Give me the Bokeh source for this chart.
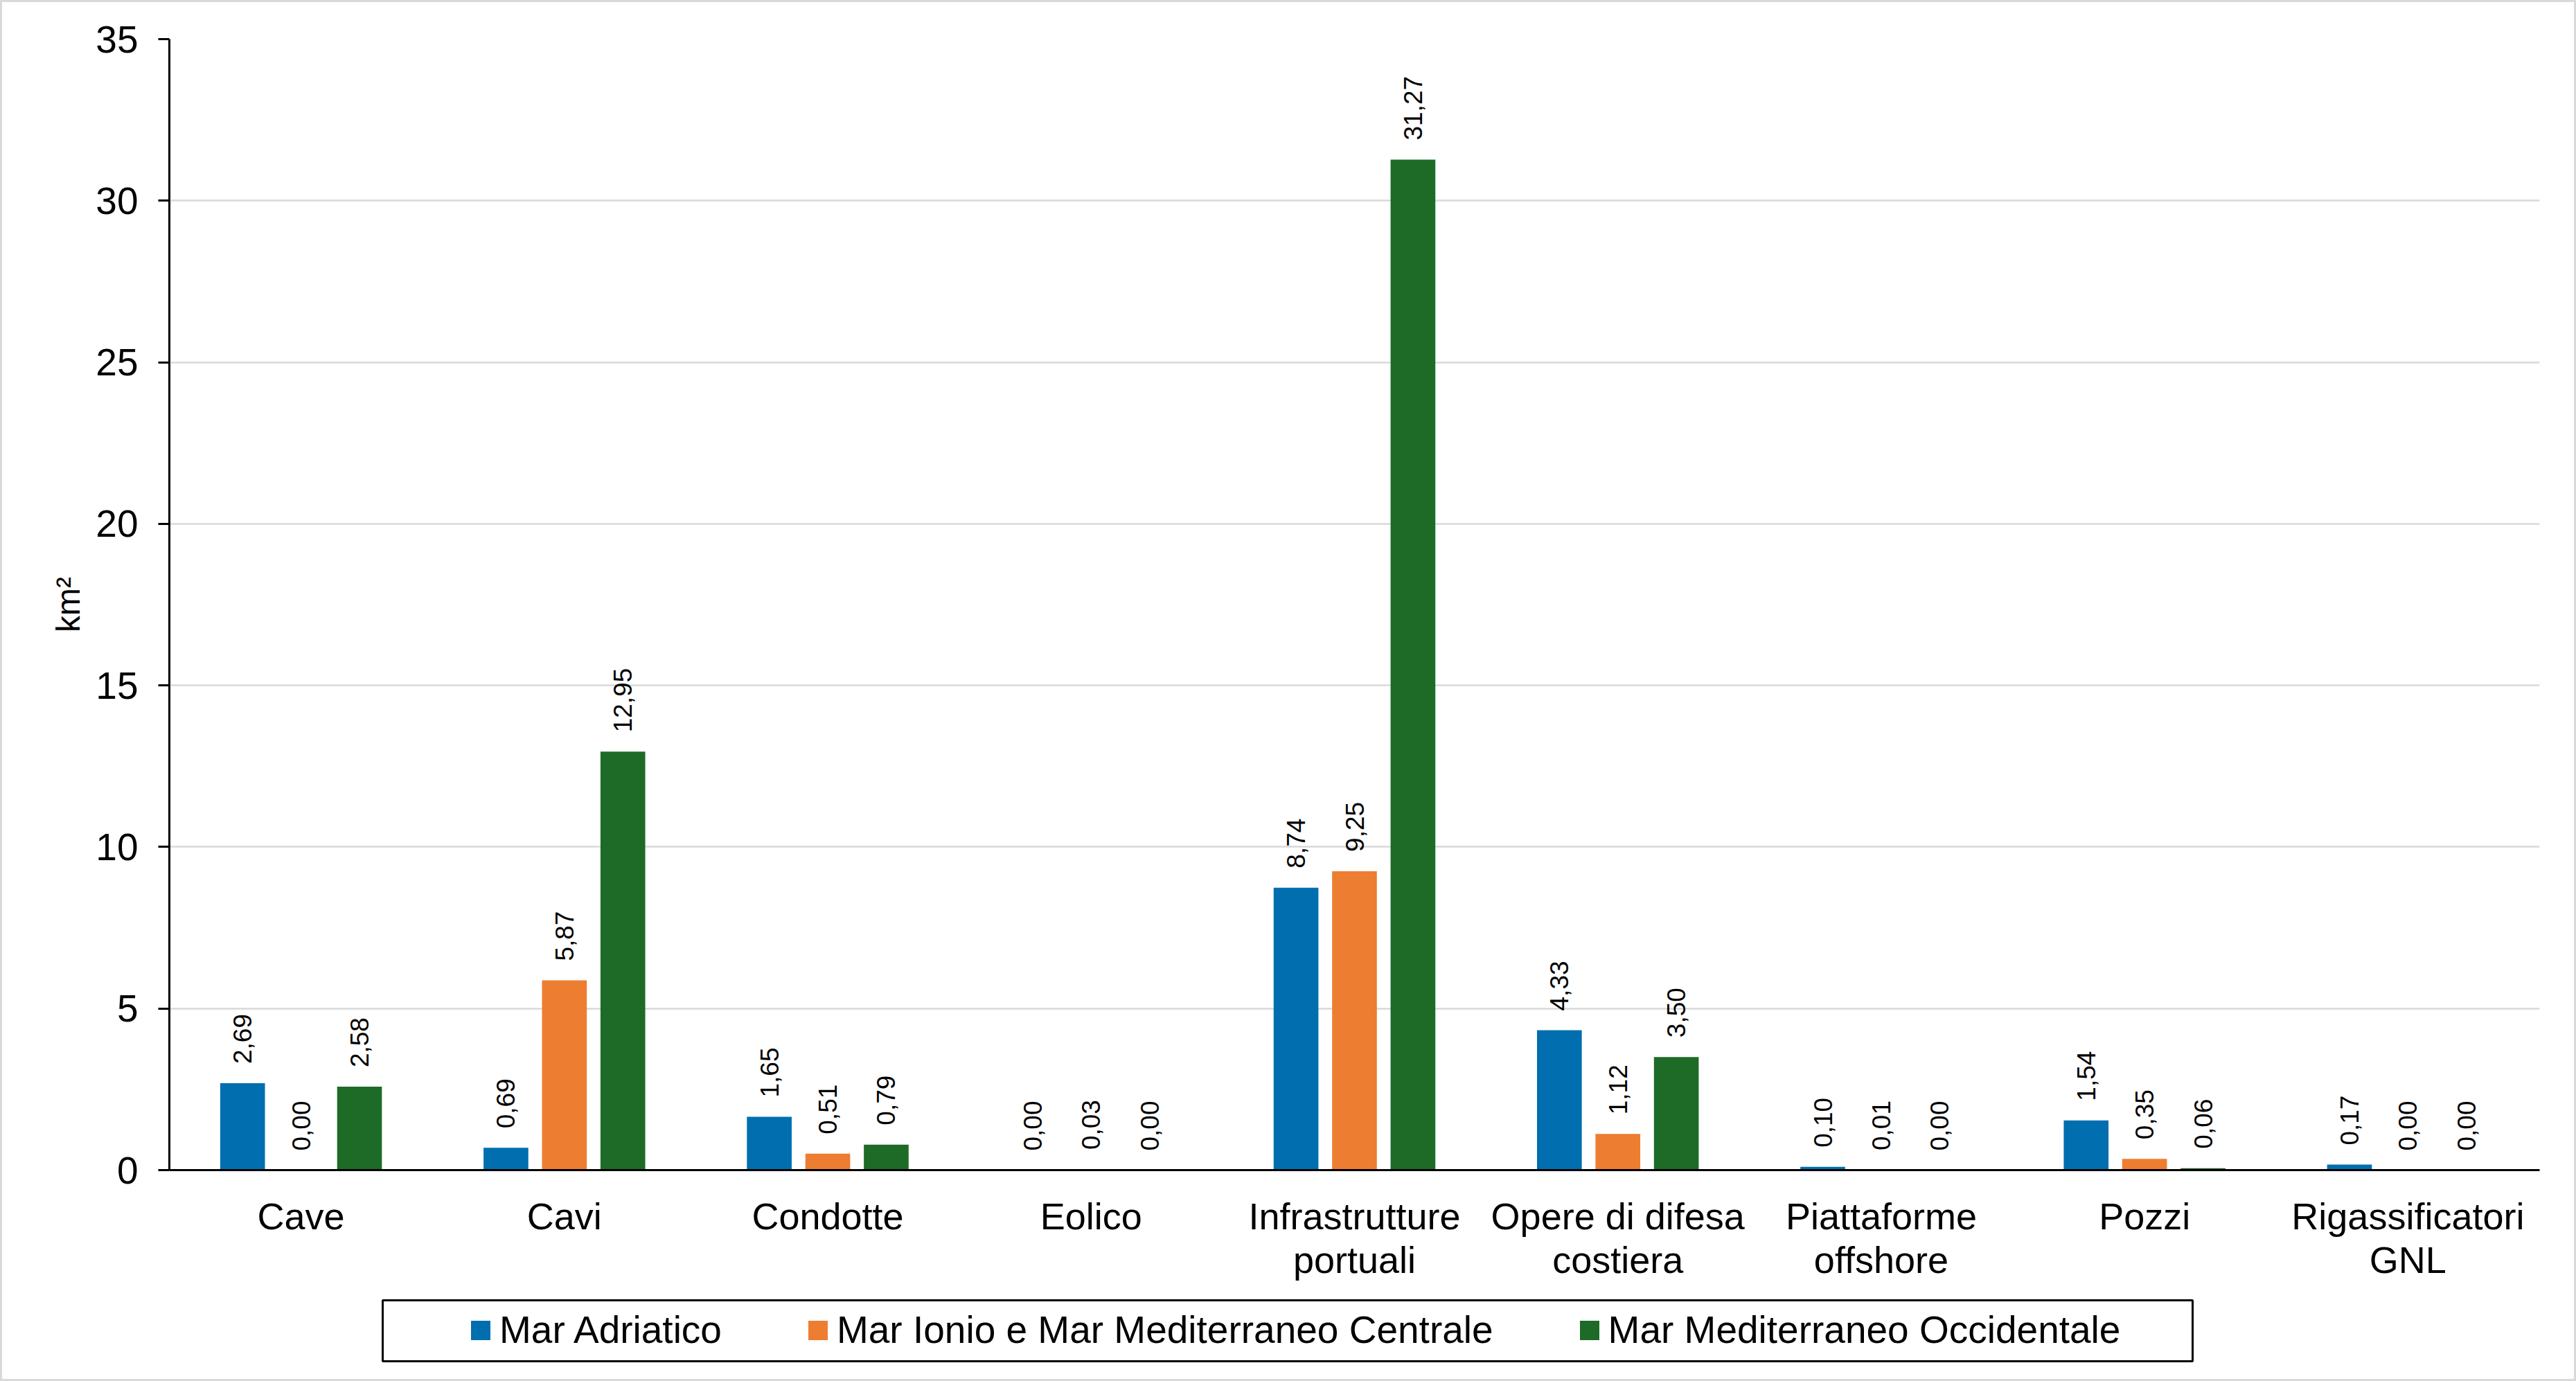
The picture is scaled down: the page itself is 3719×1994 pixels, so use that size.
from math import pi
from bokeh.plotting import figure
from bokeh.layouts import column
from bokeh.models import (ColumnDataSource, FactorRange, Range1d, FixedTicker,
                          Legend, LegendItem, BoxAnnotation)
from bokeh.transform import dodge
from bokeh.core.properties import value
from bokeh.embed import file_html
from bokeh.resources import INLINE

categories = ["Cave", "Cavi", "Condotte", "Eolico", "Infrastrutture\nportuali",
              "Opere di difesa\ncostiera", "Piattaforme\noffshore", "Pozzi",
              "Rigassificatori\nGNL"]
series_names = ["Mar Adriatico", "Mar Ionio e Mar Mediterraneo Centrale",
                "Mar Mediterraneo Occidentale"]
adriatico = [2.69, 0.69, 1.65, 0.00, 8.74, 4.33, 0.10, 1.54, 0.17]
ionio = [0.00, 5.87, 0.51, 0.03, 9.25, 1.12, 0.01, 0.35, 0.00]
occidentale = [2.58, 12.95, 0.79, 0.00, 31.27, 3.50, 0.00, 0.06, 0.00]
colors = ["#006EAF", "#ED7D31", "#1D6B27"]
y_ticks = [0, 5, 10, 15, 20, 25, 30, 35]
y_label = "km²"

FONT = "Liberation Sans"
EDGE = "3px solid #d9d9d9"


def fmt(v):
    return f"{v:.2f}".replace(".", ",")


series = [adriatico, ionio, occidentale]
data = {"cat": categories}
for i, vals in enumerate(series):
    data[f"s{i}"] = vals
    data[f"l{i}"] = [fmt(v) for v in vals]
src = ColumnDataSource(data)

W, H1, H2 = 3719, 1870, 124
MBL, MBR = 241, 56
FW = W - MBL - MBR  # frame width

p = figure(width=W, height=H1,
           x_range=FactorRange(*categories, range_padding=0),
           y_range=Range1d(0, 35),
           output_backend="svg", toolbar_location=None,
           min_border_left=MBL, min_border_right=MBR,
           min_border_top=53, min_border_bottom=184)
p.styles = {"border-top": EDGE, "border-left": EDGE, "border-right": EDGE}
p.outline_line_color = None
p.background_fill_color = "white"
p.border_fill_color = "white"

offsets = [-0.222, 0.0, 0.222]
for i, off in enumerate(offsets):
    p.vbar(x=dodge("cat", off, range=p.x_range), top=f"s{i}", bottom=0,
           width=0.17, source=src, fill_color=colors[i], line_color=None)
    p.text(x=dodge("cat", off, range=p.x_range), y=f"s{i}", text=f"l{i}",
           source=src, angle=pi / 2, text_align="left", text_baseline="middle",
           y_offset=-28, text_font=value(FONT), text_font_size="37px",
           text_color="black")

# axes
p.xaxis.major_label_text_font = FONT
p.xaxis.major_label_text_font_size = "54px"
p.xaxis.major_label_text_color = "black"
p.xaxis.major_label_text_line_height = 1.05
p.xaxis.major_tick_line_color = None
p.xaxis.minor_tick_line_color = None
p.xaxis.axis_line_width = 3
p.xaxis.axis_line_color = "black"
p.xaxis.major_label_standoff = 30

p.yaxis.ticker = FixedTicker(ticks=y_ticks)
p.yaxis.major_label_text_font = FONT
p.yaxis.major_label_text_font_size = "55px"
p.yaxis.major_label_text_color = "black"
p.yaxis.major_tick_out = 16
p.yaxis.major_tick_in = 0
p.yaxis.major_tick_line_width = 3
p.yaxis.major_tick_line_color = "black"
p.yaxis.minor_tick_line_color = None
p.yaxis.axis_line_width = 3
p.yaxis.axis_line_color = "black"
p.yaxis.major_label_standoff = 29
p.yaxis.axis_label = y_label
p.yaxis.axis_label_text_font = FONT
p.yaxis.axis_label_text_font_size = "48px"
p.yaxis.axis_label_text_font_style = "normal"
p.yaxis.axis_label_text_color = "black"
p.yaxis.axis_label_standoff = 10

p.ygrid.grid_line_color = "#d9d9d9"
p.ygrid.grid_line_width = 2.5
p.ygrid.ticker = FixedTicker(ticks=y_ticks)
p.xgrid.grid_line_color = None

# legend strip below the chart (frame aligned with the chart's frame)
p2 = figure(width=W, height=H2, x_range=Range1d(0, FW), y_range=Range1d(H2, 0),
            output_backend="svg", toolbar_location=None,
            x_axis_type=None, y_axis_type=None,
            min_border_left=MBL, min_border_right=MBR,
            min_border_top=0, min_border_bottom=0)
p2.styles = {"border-bottom": EDGE, "border-left": EDGE, "border-right": EDGE}
p2.grid.visible = False
p2.outline_line_color = None
p2.background_fill_color = "white"
p2.border_fill_color = "white"

box = BoxAnnotation(left=308, right=2921, top=7, bottom=95,
                    fill_color=None, line_color="black", line_width=3,
                    line_alpha=1.0)
p2.add_layout(box)

# legend proxies (kept outside the visible range)
leg_renderers = [p2.vbar(x=[-100], top=[-100], width=1, fill_color=c,
                         line_color=None)
                 for c in colors]
legend = Legend(items=[LegendItem(label=n, renderers=[r])
                       for n, r in zip(series_names, leg_renderers)],
                orientation="horizontal", location=(432, 42),
                padding=0, margin=0, spacing=121,
                glyph_width=35, glyph_height=35, label_standoff=10,
                label_text_font=FONT, label_text_font_size="55px",
                label_text_baseline="middle",
                label_text_color="black",
                border_line_color=None, background_fill_alpha=0)
p2.add_layout(legend, "center")

layout = column(p, p2, spacing=0)

with open("out.html", "w") as f:
    f.write(file_html(layout, INLINE, "chart"))
